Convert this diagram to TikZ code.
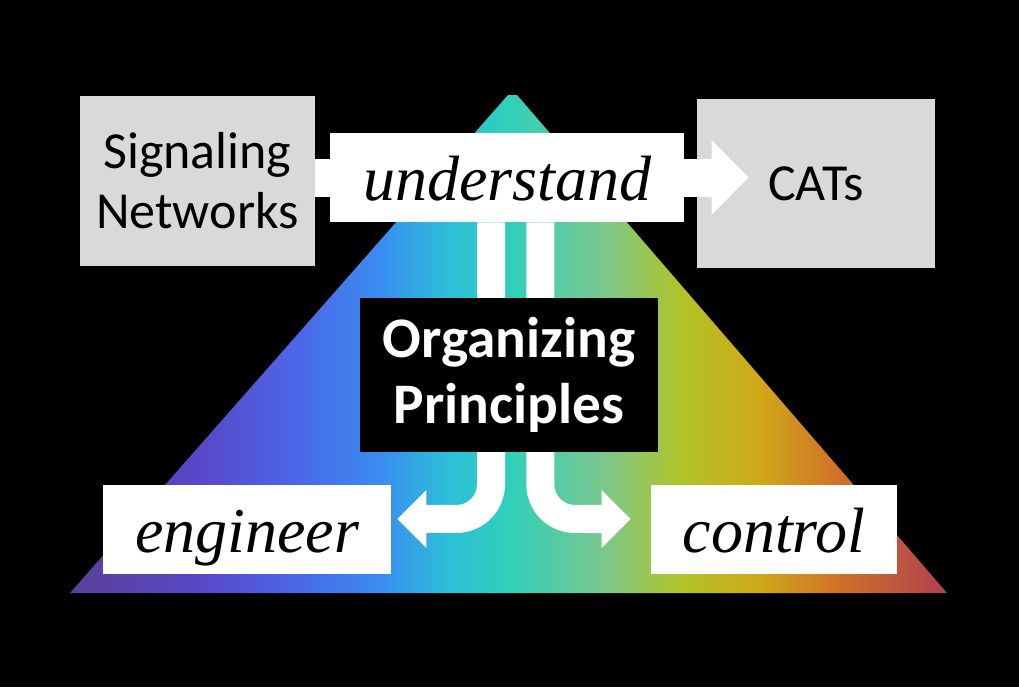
\documentclass[tikz,border=0pt]{standalone}
\usepackage{fontspec}
\setmainfont{Liberation Serif}
\setsansfont{Carlito}
\usetikzlibrary{arrows.meta,calc}
\definecolor{boxgrey}{HTML}{D9D9D9}
\definecolor{sp0}{HTML}{5A3F98}
\definecolor{sp1}{HTML}{5848C8}
\definecolor{sp2}{HTML}{4A68E8}
\definecolor{sp3}{HTML}{3A8CF0}
\definecolor{sp4}{HTML}{2CC0D8}
\definecolor{sp5}{HTML}{30D0B8}
\definecolor{sp6}{HTML}{78C890}
\definecolor{sp7}{HTML}{B0C428}
\definecolor{sp8}{HTML}{D0A818}
\definecolor{sp9}{HTML}{D07028}
\definecolor{sp10}{HTML}{B04050}
\pgfdeclarehorizontalshading{spectrum}{100bp}{color(0bp)=(sp0); color(25bp)=(sp0);
  color(32.4bp)=(sp1); color(38.1bp)=(sp2); color(42.65bp)=(sp3); color(46.65bp)=(sp4);
  color(50.1bp)=(sp5); color(55.2bp)=(sp6); color(59.8bp)=(sp7); color(64.35bp)=(sp8);
  color(68.9bp)=(sp9); color(75bp)=(sp10); color(100bp)=(sp10)}
\begin{document}
\begin{tikzpicture}[x=0.75pt,y=-0.75pt,
  greybox/.style={fill=boxgrey,inner sep=0pt,minimum height=127pt,align=center,font=\sffamily\fontsize{39}{45}\selectfont},
  wordbox/.style={fill=white,inner sep=0pt,minimum height=67pt,text height=35pt,text depth=0pt,font=\itshape\fontsize{48}{54}\selectfont},
  orgbox/.style={fill=black,text=white,inner sep=0pt,minimum width=223.5pt,minimum height=115.5pt,align=center,font=\sffamily\bfseries\fontsize{43}{49}\selectfont},
  bigarrow/.style={white,line width=28.5pt,-{Triangle[length=27.75pt,width=54pt]}},
  flowarrow/.style={white,line width=21pt,rounded corners=26pt,-{Triangle[length=21.75pt,width=42pt]}}]
% background and pyramid
\fill[black] (0,0) rectangle (1019,687);
\useasboundingbox (0,0) rectangle (1019,687);
\shade[shading=spectrum] (70,593) -- (508,95) -- (517,95) -- (947,593) -- cycle;
% boxes
\node[greybox,minimum width=176pt] (sig) at (197.5,181) {Signaling\\Networks};
\node[greybox,minimum width=178.5pt] (cats) at (816,183.5) {CATs};
\node[wordbox,minimum width=216pt] (eng) at (247,529.5) {engineer};
\node[wordbox,minimum width=184.5pt] (ctl) at (774,529.5) {control};
\coordinate (mid) at (0,177.5);
\draw[bigarrow] (sig.east |- mid) -- ([xshift=39pt]cats.west |- mid);
\node[wordbox,minimum width=265.5pt] (und) at (507,177.5) {understand};
% arrows down to engineer / control
\draw[flowarrow] ([xshift=-12pt]und.south) |- ([xshift=4.5pt,yshift=7.9pt]eng.east);
\draw[flowarrow] ([xshift=25pt]und.south) |- ([xshift=-15pt,yshift=7.9pt]ctl.west);
\node[orgbox] (org) at (509,375) {Organizing\\Principles};
\end{tikzpicture}
\end{document}
